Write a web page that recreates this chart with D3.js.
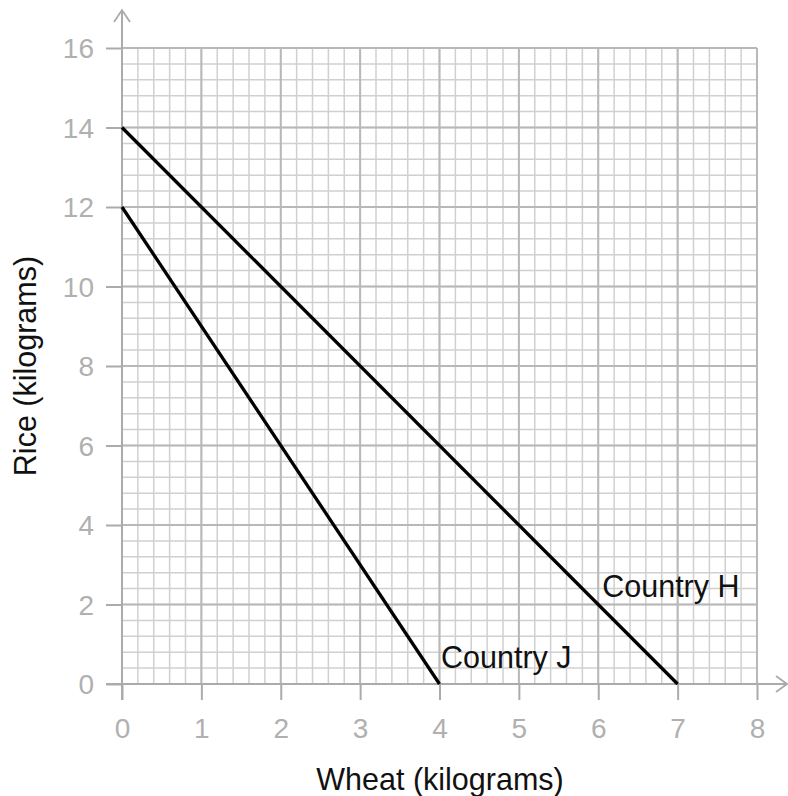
<!DOCTYPE html>
<html>
<head>
<meta charset="utf-8">
<script src="https://cdn.jsdelivr.net/npm/d3@7"></script>
<style>
  body { margin: 0; background: #fff; }
  svg { display: block; font-family: "Liberation Sans", Arial, sans-serif; }
</style>
</head>
<body>
<svg id="chart" width="788" height="796"></svg>
<script>
(function () {
  "use strict";

  // data
  const xTicks = [0, 1, 2, 3, 4, 5, 6, 7, 8];
  const yTicks = [0, 2, 4, 6, 8, 10, 12, 14, 16];
  const countries = ["Country H", "Country J"];
  const wheatMax = [7, 4];   // x-intercepts
  const riceMax = [14, 12];  // y-intercepts
  const labelAt = [[6.05, 2.2], [4.02, 0.4]];

  const svg = d3.select("#chart");
  const x = d3.scaleLinear().domain([0, 8]).range([122, 757]);
  const y = d3.scaleLinear().domain([0, 16]).range([684, 48]);

  const minorX = d3.range(0, 8.001, 0.2),
    minorY = d3.range(0, 16.001, 0.4);

  // minor grid
  const grid = svg.append("g");
  grid.selectAll("line.mx").data(minorX).enter().append("line")
    .attr("x1", d => x(d)).attr("x2", d => x(d))
    .attr("y1", y(0)).attr("y2", y(16))
    .attr("stroke", "#d0d0d0").attr("stroke-width", 1.5);
  grid.selectAll("line.my").data(minorY).enter().append("line")
    .attr("y1", d => y(d)).attr("y2", d => y(d))
    .attr("x1", x(0)).attr("x2", x(8))
    .attr("stroke", "#d0d0d0").attr("stroke-width", 1.5);

  // major grid
  grid.selectAll("line.Mx").data(xTicks).enter().append("line")
    .attr("x1", d => x(d)).attr("x2", d => x(d))
    .attr("y1", y(0)).attr("y2", y(16))
    .attr("stroke", "#b8b8b8").attr("stroke-width", 2);
  grid.selectAll("line.My").data(yTicks).enter().append("line")
    .attr("y1", d => y(d)).attr("y2", d => y(d))
    .attr("x1", x(0)).attr("x2", x(8))
    .attr("stroke", "#b8b8b8").attr("stroke-width", 2);

  // axes via d3 axis generators, styled afterwards
  const axColor = "#ababab";
  const gx = svg.append("g").attr("transform", `translate(0,${y(0)})`)
    .call(d3.axisBottom(x).tickValues(xTicks).tickSize(16).tickPadding(18).tickFormat(d3.format("d")));
  const gy = svg.append("g").attr("transform", `translate(${x(0)},0)`)
    .call(d3.axisLeft(y).tickValues(yTicks).tickSize(16).tickPadding(12).tickFormat(d3.format("d")));
  [gx, gy].forEach(g => {
    g.select(".domain").remove();
    g.selectAll(".tick line").attr("stroke", axColor).attr("stroke-width", 2);
    g.selectAll(".tick text").attr("fill", "#b0b0b0").style("font-size", "28px")
      .style("font-family", "'Liberation Sans', Arial, sans-serif");
  });
  gy.selectAll(".tick text").attr("dy", "0.35em");
  gx.selectAll(".tick text").attr("dy", "0.71em");

  // axis lines with arrows
  svg.append("line").attr("x1", x(0) - 16).attr("x2", 787)
    .attr("y1", y(0)).attr("y2", y(0)).attr("stroke", axColor).attr("stroke-width", 2);
  svg.append("line").attr("x1", x(0)).attr("x2", x(0))
    .attr("y1", y(0) + 16).attr("y2", 10).attr("stroke", axColor).attr("stroke-width", 2);
  svg.append("path").attr("d", `M776,${y(0) - 8}L787,${y(0)}L776,${y(0) + 8}`)
    .attr("fill", "none").attr("stroke", axColor).attr("stroke-width", 1.8);
  svg.append("path").attr("d", `M${x(0) - 8},22L${x(0)},10L${x(0) + 8},22`)
    .attr("fill", "none").attr("stroke", axColor).attr("stroke-width", 1.8);

  // PPF lines
  const line = d3.line().x(d => x(d[0])).y(d => y(d[1]));
  countries.forEach((c, i) => {
    svg.append("path").datum([[0, riceMax[i]], [wheatMax[i], 0]])
      .attr("d", line).attr("fill", "none")
      .attr("stroke", "#000").attr("stroke-width", 3.3);
    svg.append("text").attr("x", x(labelAt[i][0])).attr("y", y(labelAt[i][1]))
      .attr("fill", "#111").style("font-size", "30.5px").text(c);
  });

  // axis titles
  svg.append("text").attr("x", 440).attr("y", 790).attr("text-anchor", "middle")
    .attr("fill", "#111").style("font-size", "30.5px").text("Wheat (kilograms)");
  svg.append("text").attr("transform", "translate(36,366) rotate(-90)")
    .attr("text-anchor", "middle").attr("fill", "#111").style("font-size", "30.5px")
    .text("Rice (kilograms)");
}());
</script>
</body>
</html>
